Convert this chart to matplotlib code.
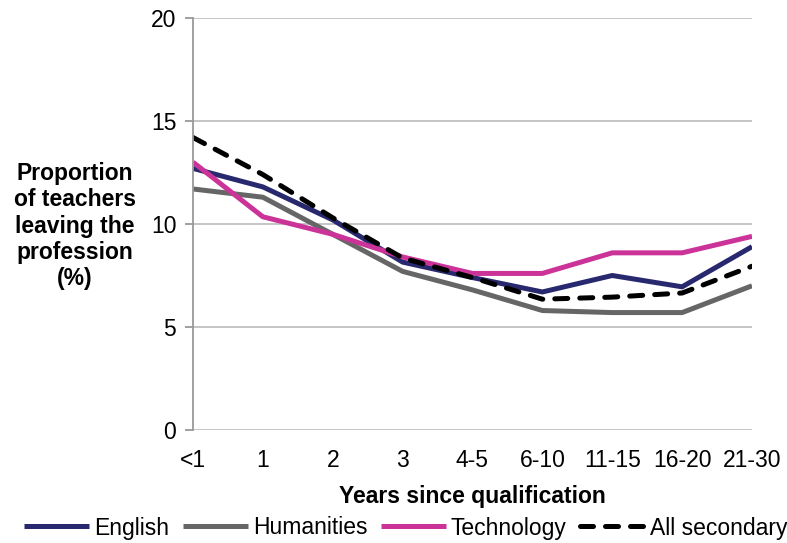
import matplotlib
matplotlib.use('Agg')
from matplotlib import pyplot as plt

plt.rcParams['font.family'] = ['Liberation Sans', 'DejaVu Sans']

categories = ['<1', '1', '2', '3', '4-5', '6-10', '11-15', '16-20', '21-30']
english = [12.7, 11.8, 10.2, 8.15, 7.4, 6.7, 7.5, 6.95, 8.9]
humanities = [11.7, 11.3, 9.5, 7.7, 6.8, 5.8, 5.7, 5.7, 7.0]
technology = [13.0, 10.35, 9.5, 8.4, 7.6, 7.6, 8.6, 8.6, 9.4]
all_secondary = [14.2, 12.4, 10.3, 8.35, 7.4, 6.35, 6.45, 6.65, 7.95]

fs = 16.5

fig = plt.figure(figsize=(7.87, 5.43), dpi=100)
ax = fig.add_axes([193 / 787, 1 - 430 / 543, (752 - 193) / 787, (430 - 18) / 543])

x = list(range(len(categories)))
ax.plot(x, english, color='#28286e', lw=3.6, label='English', solid_capstyle='butt')
ax.plot(x, humanities, color='#666666', lw=3.6, label='Humanities', solid_capstyle='butt')
ax.plot(x, technology, color='#cc3399', lw=3.6, label='Technology', solid_capstyle='butt')
ax.plot(x, all_secondary, color='black', lw=3.6, ls=(0, (2.6, 2.4)), label='All secondary',
        dash_capstyle='round')

ax.set_xlim(0, len(categories) - 1)
ax.set_ylim(0, 20)
ax.set_yticks([0, 5, 10, 15, 20])
ax.set_xticks(x)
ax.set_xticklabels(categories)
ax.yaxis.grid(True, color='#c0c0c0', lw=1.3)
ax.set_axisbelow(True)
for s in ['top', 'right', 'bottom']:
    ax.spines[s].set_visible(False)
ax.spines['left'].set_color('#999999')
ax.spines['left'].set_linewidth(1.3)
ax.tick_params(axis='y', length=6, width=1.3, color='#999999', labelsize=fs, pad=6)
ax.tick_params(axis='x', length=0, labelsize=fs, pad=14)

ax.set_xlabel('Years since qualification', fontsize=fs, fontweight='bold', labelpad=9)
fig.text(75 / 787, 1 - 226 / 543, 'Proportion\nof teachers\nleaving the\nprofession\n(%)',
         ha='center', va='center', fontsize=fs, fontweight='bold', linespacing=1.18)

fig.legend(*ax.get_legend_handles_labels(), loc='center', bbox_to_anchor=(406 / 787, 1 - 528 / 543),
           ncol=4, frameon=False, fontsize=fs, handlelength=2.85, handletextpad=0.2,
           columnspacing=0.6, borderaxespad=0, borderpad=0)

plt.savefig('out.png', dpi=100)
